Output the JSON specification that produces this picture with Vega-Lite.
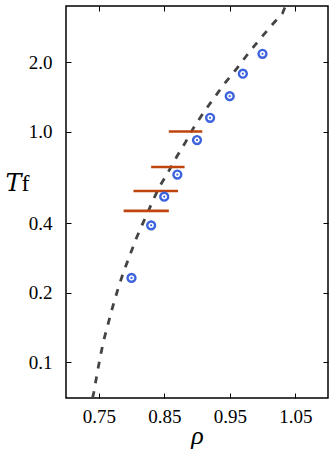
{
  "$schema": "https://vega.github.io/schema/vega-lite/v6.json",
  "width": 262,
  "height": 392,
  "padding": {"left": 5, "top": 5, "right": 5, "bottom": 5},
  "background": "white",
  "config": {
    "font": "Liberation Serif",
    "view": {"stroke": "black", "strokeWidth": 1.5},
    "axis": {"grid": false, "domain": false, "tickColor": "black", "labelColor": "black", "titleColor": "black", "labelFont": "Liberation Serif", "titleFont": "Liberation Serif"}
  },
  "datasets": {
    "curve": [
      {"rho": 0.7405, "T": 0.0700},
      {"rho": 0.7424, "T": 0.0739},
      {"rho": 0.7470, "T": 0.0877},
      {"rho": 0.7520, "T": 0.1046},
      {"rho": 0.7576, "T": 0.1245},
      {"rho": 0.7646, "T": 0.1479},
      {"rho": 0.7717, "T": 0.1755},
      {"rho": 0.7793, "T": 0.2077},
      {"rho": 0.7879, "T": 0.2465},
      {"rho": 0.7980, "T": 0.2937},
      {"rho": 0.8077, "T": 0.3466},
      {"rho": 0.8192, "T": 0.4113},
      {"rho": 0.8304, "T": 0.4853},
      {"rho": 0.8420, "T": 0.5720},
      {"rho": 0.8547, "T": 0.6570},
      {"rho": 0.8688, "T": 0.7753},
      {"rho": 0.8825, "T": 0.8995},
      {"rho": 0.8961, "T": 1.054},
      {"rho": 0.9113, "T": 1.223},
      {"rho": 0.9265, "T": 1.404},
      {"rho": 0.9432, "T": 1.630},
      {"rho": 0.9609, "T": 1.877},
      {"rho": 0.9770, "T": 2.157},
      {"rho": 0.9937, "T": 2.470},
      {"rho": 1.0125, "T": 2.857},
      {"rho": 1.0307, "T": 3.260},
      {"rho": 1.0350, "T": 3.500}
    ],
    "points": [
      {"rho": 0.80, "T": 0.232},
      {"rho": 0.83, "T": 0.392},
      {"rho": 0.85, "T": 0.522},
      {"rho": 0.87, "T": 0.651},
      {"rho": 0.90, "T": 0.918},
      {"rho": 0.92, "T": 1.147},
      {"rho": 0.95, "T": 1.423},
      {"rho": 0.97, "T": 1.781},
      {"rho": 1.00, "T": 2.172}
    ],
    "segments": [
      {"rho1": 0.857, "rho2": 0.908, "T": 1.0},
      {"rho1": 0.830, "rho2": 0.881, "T": 0.702},
      {"rho1": 0.803, "rho2": 0.871, "T": 0.552},
      {"rho1": 0.788, "rho2": 0.857, "T": 0.453}
    ]
  },
  "layer": [
    {
      "data": {"name": "curve"},
      "mark": {"type": "line", "color": "#444444", "strokeWidth": 2.8, "strokeDash": [7, 8], "clip": true},
      "encoding": {
        "x": {"field": "rho", "type": "quantitative", "scale": {"domain": [0.70, 1.10], "nice": false, "zero": false},
          "axis": {"orient": "bottom", "values": [0.75, 0.85, 0.95, 1.05], "format": ".2f", "tickSize": -5, "labelPadding": 14, "labelFontSize": 19, "title": "ρ", "titleFontSize": 26, "titleFontStyle": "italic", "titleFontWeight": "normal", "titlePadding": -4}},
        "y": {"field": "T", "type": "quantitative", "scale": {"type": "log", "domain": [0.07, 3.5], "nice": false},
          "axis": {"orient": "left", "values": [0.1, 0.2, 0.4, 1, 2], "format": ".1f", "tickSize": -5, "labelPadding": 19, "labelFontSize": 19, "title": "𝑇f", "titleFont": "Liberation Serif, DejaVu Serif", "titleAngle": 0, "titleFontSize": 24, "titleFontWeight": "normal", "titleAlign": "left", "titleBaseline": "middle", "titleX": -61, "titleY": 177}}
      }
    },
    {
      "data": {"name": "segments"},
      "mark": {"type": "rule", "color": "#c0440e", "strokeWidth": 2.6},
      "encoding": {
        "x": {"field": "rho1", "type": "quantitative", "scale": {"domain": [0.70, 1.10], "nice": false, "zero": false}, "axis": null},
        "x2": {"field": "rho2"},
        "y": {"field": "T", "type": "quantitative", "scale": {"type": "log", "domain": [0.07, 3.5], "nice": false}, "axis": null}
      }
    },
    {
      "data": {"name": "points"},
      "mark": {"type": "point", "shape": "circle", "filled": false, "color": "#3d63dd", "strokeWidth": 2.4, "size": 62, "opacity": 1},
      "encoding": {
        "x": {"field": "rho", "type": "quantitative", "scale": {"domain": [0.70, 1.10], "nice": false, "zero": false}, "axis": null},
        "y": {"field": "T", "type": "quantitative", "scale": {"type": "log", "domain": [0.07, 3.5], "nice": false}, "axis": null}
      }
    },
    {
      "data": {"name": "points"},
      "mark": {"type": "point", "shape": "circle", "filled": true, "color": "#3d63dd", "size": 5, "opacity": 1},
      "encoding": {
        "x": {"field": "rho", "type": "quantitative", "scale": {"domain": [0.70, 1.10], "nice": false, "zero": false},
          "axis": {"orient": "top", "values": [0.75, 0.85, 0.95, 1.05], "tickSize": -5, "labels": false, "title": null}},
        "y": {"field": "T", "type": "quantitative", "scale": {"type": "log", "domain": [0.07, 3.5], "nice": false},
          "axis": {"orient": "right", "values": [0.1, 0.2, 0.4, 1, 2], "tickSize": -5, "labels": false, "title": null}}
      }
    }
  ],
  "resolve": {"axis": {"x": "independent", "y": "independent"}}
}
